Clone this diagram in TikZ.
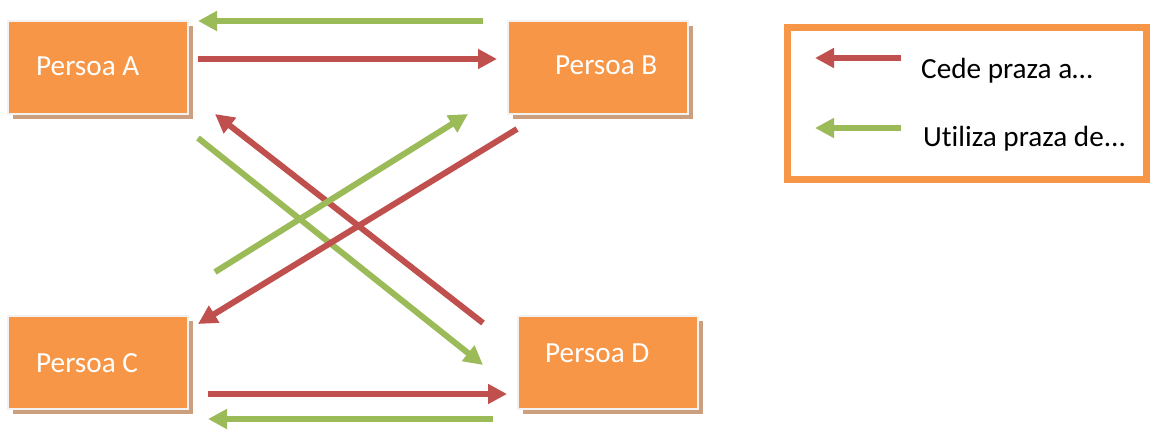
\documentclass[tikz,border=0pt]{standalone}
\usepackage{fontspec}
\setmainfont{Carlito}[Ligatures={NoCommon}]
\usetikzlibrary{arrows.meta,shadows}
\definecolor{boxorange}{HTML}{F79646}
\definecolor{arrred}{HTML}{C0504D}
\definecolor{arrgreen}{HTML}{9BBB59}
\definecolor{shadowtan}{HTML}{CC9F7E}
\definecolor{boxedge}{HTML}{F2F2F2}
\tikzset{
  personbox/.style={rectangle, fill=boxorange, draw=boxedge, line width=2pt,
    minimum width=180pt, minimum height=93pt, inner sep=0pt,
    drop shadow={shadow xshift=5pt, shadow yshift=-5pt, fill=shadowtan, opacity=1}},
  boxtext/.style={anchor=base west, inner sep=0pt, text=white, font=\fontsize{29.2}{34}\selectfont},
  legtext/.style={anchor=base west, inner sep=0pt, text=black, font=\fontsize{29.2}{34}\selectfont},
  redarr/.style={draw=arrred, line width=6pt, -{Triangle[length=19pt,width=19pt]}},
  greenarr/.style={draw=arrgreen, line width=6pt, -{Triangle[length=19pt,width=19pt]}},
}
\begin{document}
\begin{tikzpicture}[x=1pt,y=-1pt]
\useasboundingbox (0,0) rectangle (1152,429);
% boxes
\node[personbox] (A) at (97.5,67.5) {};
\node[personbox] (B) at (597.5,67.5) {};
\node[personbox] (C) at (97.5,362.5) {};
\node[personbox] (D) at (607.5,362.5) {};
\node[boxtext] (At) at (36,75) {Persoa A};
\node[boxtext] (Bt) at (555,74) {Persoa B};
\node[boxtext] (Ct) at (36,372) {Persoa C};
\node[boxtext] (Dt) at (545,362) {Persoa D};
% connector ends
\coordinate (g1s) at (483,21);  \coordinate (g1e) at (198,21);
\coordinate (r1s) at (198,59);  \coordinate (r1e) at (497,59);
\coordinate (r2s) at (483,323); \coordinate (r2e) at (215,114);
\coordinate (g2s) at (198,138); \coordinate (g2e) at (483,365);
\coordinate (g3s) at (215,272); \coordinate (g3e) at (468,114);
\coordinate (r3s) at (517,129); \coordinate (r3e) at (198,324);
\coordinate (r4s) at (208,394); \coordinate (r4e) at (507,394);
\coordinate (g4s) at (493,419); \coordinate (g4e) at (208,419);
\draw[greenarr] (g1s) -- (g1e);
\draw[redarr] (r1s) -- (r1e);
\draw[greenarr] (g2s) -- (g2e);
\draw[redarr] (r2s) -- (r2e);
\draw[greenarr] (g3s) -- (g3e);
\draw[redarr] (r3s) -- (r3e);
\draw[redarr] (r4s) -- (r4e);
\draw[greenarr] (g4s) -- (g4e);
% legend
\node[draw=boxorange, line width=7pt, rectangle, minimum width=358.5pt, minimum height=152.5pt, inner sep=0pt] (leg) at (966.75,103.25) {};
\coordinate (lr1) at (901,58); \coordinate (lr2) at (815,58);
\coordinate (lg1) at (901,128); \coordinate (lg2) at (815,128);
\draw[redarr] (lr1) -- (lr2);
\draw[greenarr] (lg1) -- (lg2);
\node[legtext] (l1) at (921,78) {Cede praza a…};
\node[legtext] (l2) at (923,146) {Utiliza praza de...};
\end{tikzpicture}
\end{document}
